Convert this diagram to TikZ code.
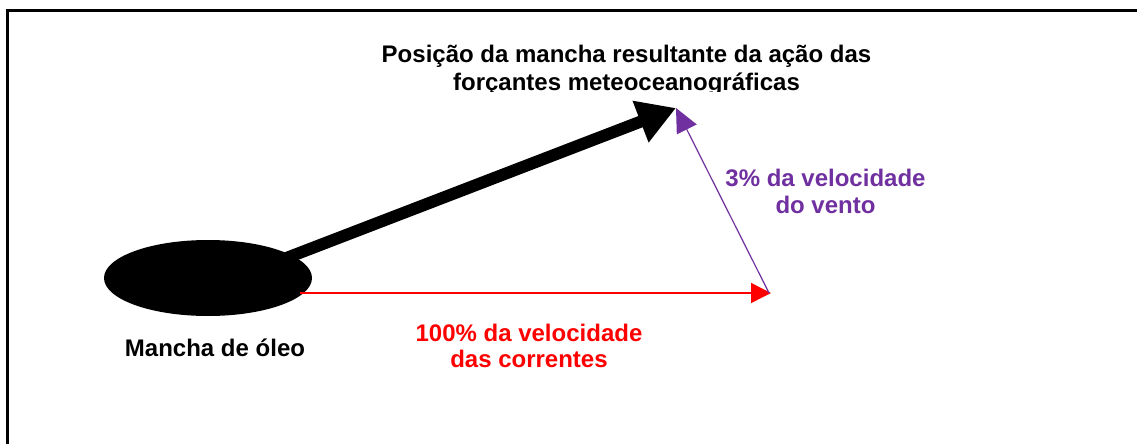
\documentclass[tikz,border=0pt]{standalone}
\usepackage{fontspec}
\setmainfont{Liberation Sans}
\usetikzlibrary{arrows.meta,shapes.geometric}
\definecolor{vpurple}{HTML}{7030A0}
\definecolor{vred}{HTML}{FF0000}
\tikzset{
  lbl/.style={font=\bfseries\fontsize{24}{27}\selectfont, align=center, inner sep=0pt, anchor=base},
}
\begin{document}
\begin{tikzpicture}[x=1pt,y=-1pt]
\useasboundingbox (0,0) rectangle (1137,444);
\draw[line width=3pt] (7,460) -- (7,11) -- (1150,11);
\node[ellipse, fill=black, minimum width=208, minimum height=76, inner sep=0pt] (spot) at (208,278) {};
\coordinate (start) at (250,272);
\coordinate (res) at (676,108);
\coordinate (cur) at (771,293);
\coordinate (curstart) at (300,293);
\draw[line width=12pt, -{Triangle[length=38pt,width=42pt]}] (start) -- (res);
\draw[vred, line width=1.4pt, -{Triangle[length=20pt,width=20pt]}] (curstart) -- (cur);
\draw[vpurple, line width=1.2pt, -{Triangle[length=24pt,width=22pt]}] (769,293) -- (res);
\begin{scope}
\clip (300,30) rectangle (900,91.5);
\node[lbl, font=\bfseries\fontsize{24}{28}\selectfont] (title) at (626.5,90.5) {Posição da mancha resultante da ação das\\forçantes meteoceanográficas};
\end{scope}
\node[lbl, text=vpurple] (wind) at (825.5,213.5) {3\% da velocidade\\do vento};
\node[lbl, text=vred, font=\bfseries\fontsize{24}{25.5}\selectfont] (curlbl) at (529,367.2) {100\% da velocidade\\das correntes};
\node[lbl] (spotlbl) at (215,356) {Mancha de óleo};
\end{tikzpicture}
\end{document}
